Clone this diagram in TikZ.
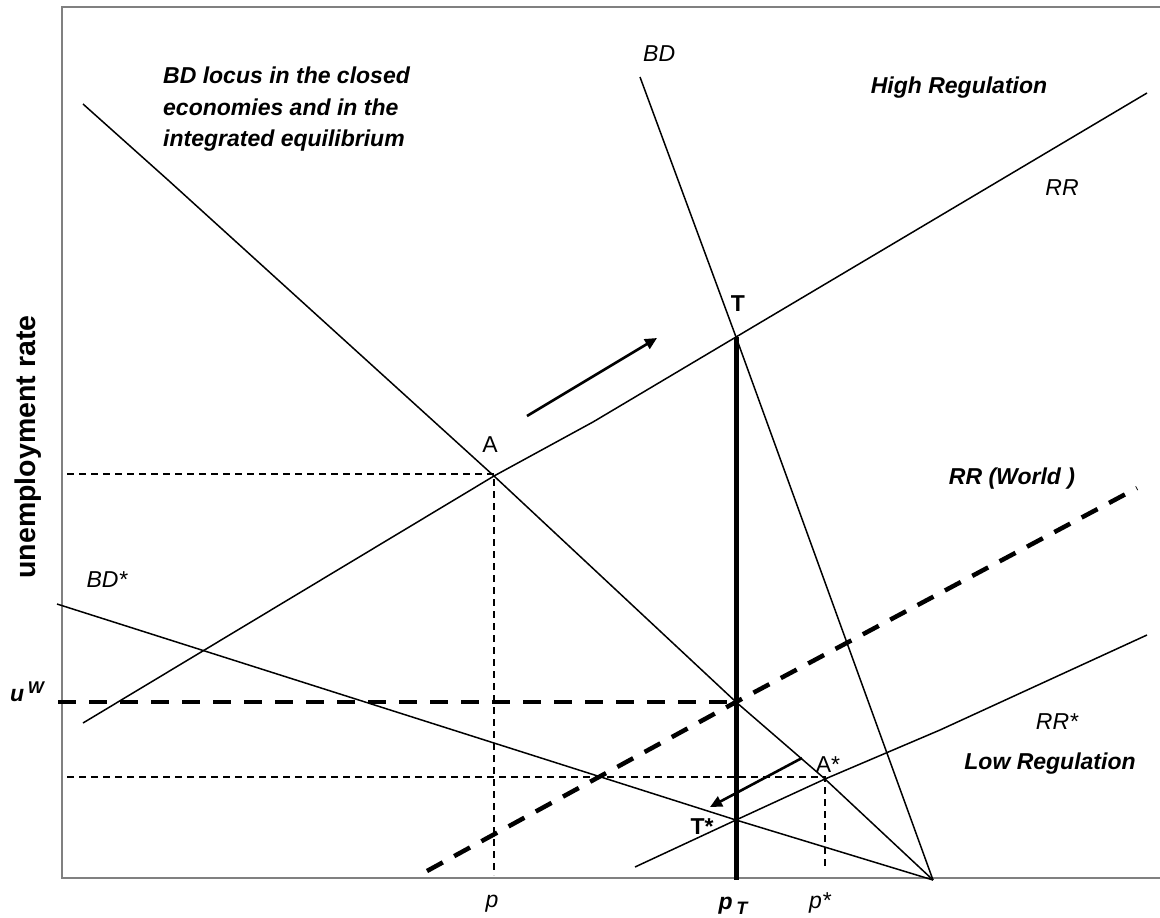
\documentclass[tikz,border=0pt]{standalone}
\usepackage{fontspec}
\setmainfont{Liberation Sans}
\usetikzlibrary{arrows.meta}
\begin{document}
\begin{tikzpicture}[x=1pt,y=-1pt,
  curve/.style={line width=1.5pt, line join=round},
  thickdash/.style={line width=4.5pt, dash pattern=on 18pt off 13pt},
  guide/.style={line width=1.2pt, dash pattern=on 7pt off 5pt},
  frameline/.style={line width=2pt, draw={rgb,255:red,128;green,128;blue,128}},
  move/.style={line width=2.6pt, -{Triangle[length=12pt,width=11pt]}},
  lbl/.style={inner sep=0pt, font=\fontsize{23}{28}\selectfont},
  lblit/.style={lbl, font=\fontsize{23}{28}\selectfont\itshape},
  lblbf/.style={lbl, font=\fontsize{23}{28}\selectfont\bfseries},
  lblbfit/.style={lbl, font=\fontsize{23}{28}\selectfont\bfseries\itshape}
]
\useasboundingbox (0,0) rectangle (1160,918);
% frame
\coordinate (F1) at (62,7);
\coordinate (F2) at (62,878);
\coordinate (F3) at (1160,878);
\coordinate (F4) at (1160,7);
\draw[frameline] (F4) -- (F1) -- (F2) -- (F3);

% key points
\coordinate (A) at (494,476);
\coordinate (T) at (736,337);
\coordinate (W) at (736,702);
\coordinate (Ts) at (736,820);
\coordinate (As) at (825,779);
\coordinate (V) at (933,880);

% BD locus (closed economies)
\coordinate (BD1) at (83,104);
\coordinate (BD2) at (168,180);
\draw[curve] (BD1) -- (BD2) -- (A) -- (W) -- (As) -- (V);
% steep BD
\coordinate (BDt) at (640,77);
\draw[curve] (BDt) -- (T) -- (V);
% BD*
\coordinate (BDs1) at (57,604);
\draw[curve] (BDs1) -- (Ts) -- (V);
% RR
\coordinate (RR1) at (83,723);
\coordinate (RRk) at (593,422);
\coordinate (RR2) at (1147,93);
\draw[curve] (RR1) -- (A) -- (RRk) -- (T) -- (RR2);
% RR*
\coordinate (RRs1) at (635,867);
\coordinate (RRsk) at (940,730);
\coordinate (RRs2) at (1147,635);
\draw[curve] (RRs1) -- (Ts) -- (As) -- (RRsk) -- (RRs2);
% RR world
\coordinate (RW1) at (427,871);
\coordinate (RW2) at (1137,488);
\draw[thickdash] (RW1) -- (W) -- (RW2);
% u^W level
\coordinate (UW) at (58,702);
\draw[thickdash] (UW) -- (W);
% p_T vertical
\coordinate (PT) at (736,880);
\draw[line width=5pt] (T) -- (PT);
% guides
\coordinate (GA) at (67,474);
\coordinate (GAb) at (494,875);
\draw[guide] (GA) -- (A |- GA) -- (GAb);
\coordinate (GS) at (67,777);
\coordinate (GSb) at (825,868);
\draw[guide] (GS) -- (As |- GS) -- (GSb);
% movement arrows
\coordinate (M1) at (527,416);
\coordinate (M2) at (657,338);
\draw[move] (M1) -- (M2);
\coordinate (M3) at (802,758);
\coordinate (M4) at (710,807);
\draw[move] (M3) -- (M4);

% labels
\node[lblbfit, anchor=base west] (t1) at (163,83) {BD locus in the closed};
\node[lblbfit, anchor=base west] (t2) at (163,115) {economies and in the};
\node[lblbfit, anchor=base west] (t3) at (163,146) {integrated equilibrium};
\node[lblbfit, anchor=base] (hr) at (959,93) {High Regulation};
\node[lblit, anchor=base west] (lbd) at (643,61) {BD};
\node[lblit] (lrr) at (1062,188) {RR};
\node[lblbf] (lt) at (738,304) {T};
\node[lbl] (la) at (490,445) {A};
\node[lblbfit] (lrw) at (1012,479) {RR (World )};
\node[lblit] (lbds) at (107,580) {BD*};
\node[lbl] (las) at (828,765) {A*};
\node[lblbf] (lts) at (702,827) {T*};
\node[lblit] (lrrs) at (1057,722) {RR*};
\node[lblbfit] (lr) at (1050,764) {Low Regulation};
\node[lblit] (lp) at (492,904) {p};
\node[lblit] (lps) at (820,903) {p*};
\node[lblbfit] (lpt) at (733,906) {p\,\raisebox{-5pt}{\fontsize{18}{20}\selectfont T}};
\node[lblbfit] (luw) at (27,692) {u\,\raisebox{8pt}{\fontsize{17}{20}\selectfont W}};
\node[inner sep=0pt, rotate=90, font=\fontsize{28.5}{32}\selectfont\bfseries] (ylab) at (28,447) {unemployment rate};
\end{tikzpicture}
\end{document}
